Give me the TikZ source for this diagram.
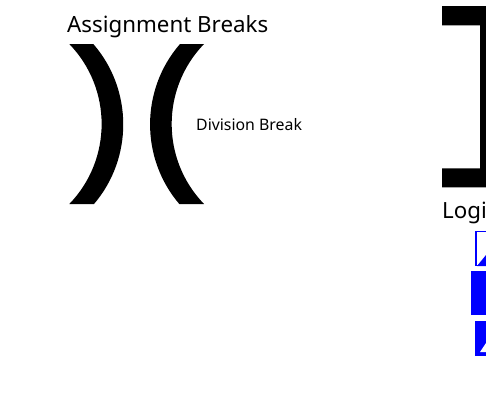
\documentclass[tikz,border=0pt]{standalone}
\usepackage{fontspec}
\setmainfont{Noto Sans}
\definecolor{markblue}{RGB}{0,0,255}
\tikzset{
  titletext/.style={inner sep=0pt,anchor=base west,font=\fontsize{22.4}{26}\selectfont,text=black},
  smalltext/.style={inner sep=0pt,anchor=base west,font=\fontsize{15.9}{18}\selectfont,text=black},
  ink/.style={fill=black,draw=none},
  bluefill/.style={fill=markblue,draw=none},
  blueframe/.style={fill=white,draw=markblue,line width=1.4pt}
}
\begin{document}
\begin{tikzpicture}[x=1bp,y=-1bp]
\useasboundingbox (0,0) rectangle (486,417);
\node[titletext] (title) at (67,32) {Assignment Breaks};
\node[smalltext] (div) at (196,130) {Division Break};
\node[titletext] (logi) at (442,218.5) {Logi};
% left arc
\path[ink] (69.3,44) -- (93.3,44) .. controls (133.1,89.8) and (133.1,158.2) .. (94,204) -- (69.3,204) .. controls (112.4,159.4) and (112.4,88.6) .. (69.3,44) -- cycle;
% right arc
\path[ink] (204,44) -- (180,44) .. controls (140.2,89.8) and (140.2,158.2) .. (179.3,204) -- (204,204) .. controls (160.9,159.4) and (160.9,88.6) .. (204,44) -- cycle;
% bracket
\path[ink] (442,6) -- (486,6) -- (486,187.3) -- (442,187.3) -- (442,168.3) -- (480,168.3) -- (480,25.3) -- (442,25.3) -- cycle;
% blue marks
\path[blueframe] (476,231.7) rectangle (488,265.5);
\path[bluefill] (477,266) -- (486,255) -- (486,266) -- cycle;
\path[bluefill] (471,271) rectangle (486,315.3);
\path[bluefill] (475.4,320.7) rectangle (486,355.7);
\path[fill=white] (480,352) -- (486,343) -- (486,352) -- cycle;
\end{tikzpicture}
\end{document}
